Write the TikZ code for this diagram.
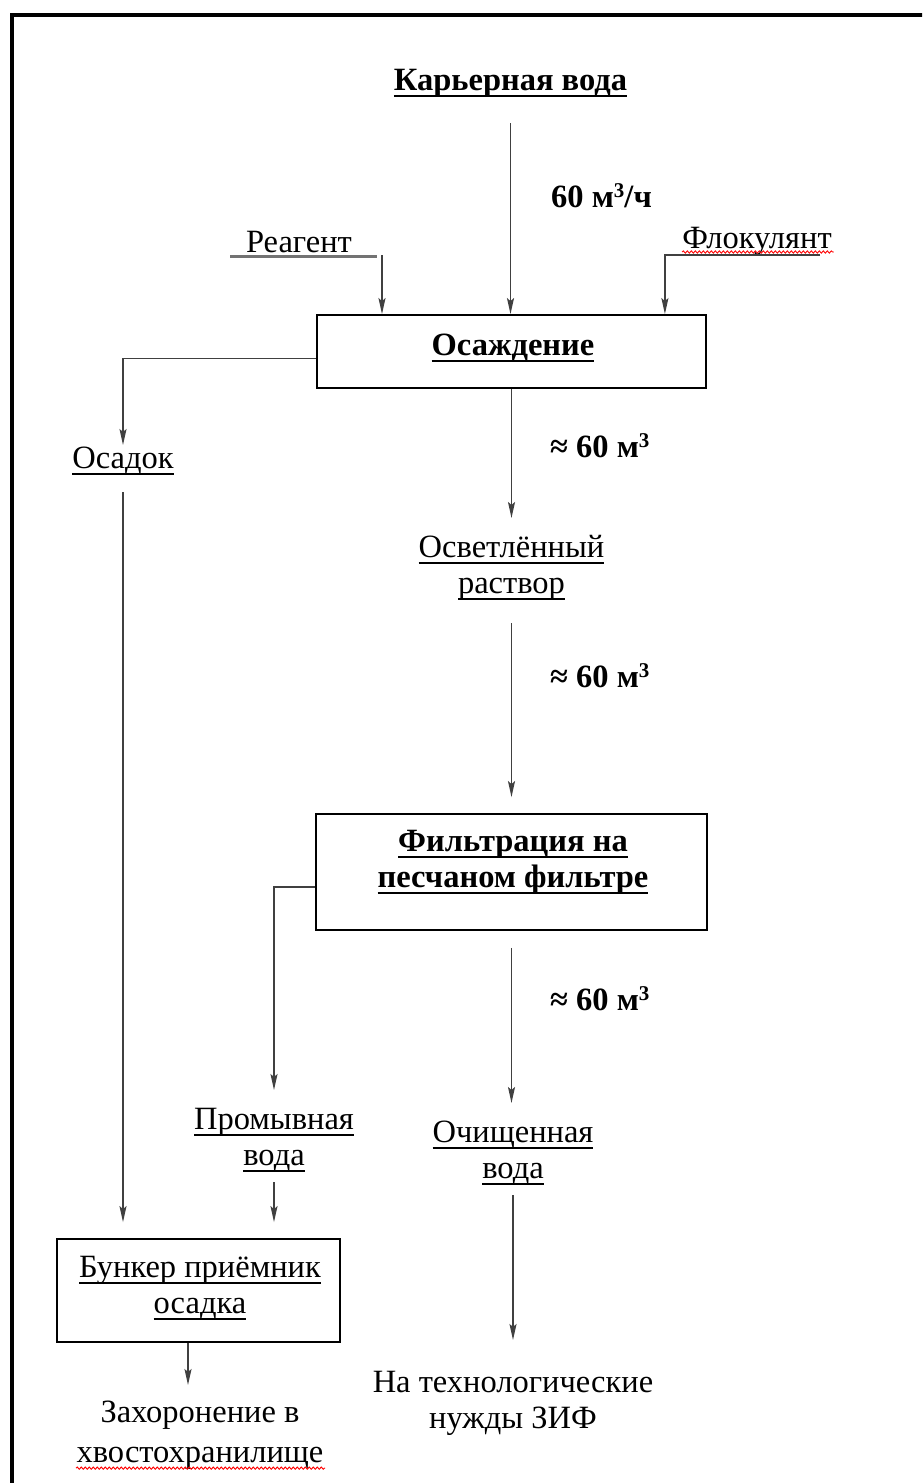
\documentclass[tikz,border=0pt]{standalone}
\usepackage{fontspec}
\setmainfont{Liberation Serif}
\usetikzlibrary{arrows.meta,calc,decorations.pathmorphing}
\newcommand\ulx[2]{\setbox0=\hbox{#2}\rlap{\rule[-7pt]{\wd0}{#1}}\box0}
\newcommand\ub[1]{\ulx{2.2pt}{\bfseries #1}}
\newcommand\un[1]{\ulx{1.6pt}{#1}}
\newcommand\cub{\raisebox{10pt}{\fontsize{21}{21}\selectfont 3}}
\begin{document}
\begin{tikzpicture}[x=1pt,y=-1pt,
 txt/.style={inner sep=0pt, font=\fontsize{32.5}{36}\selectfont, align=center},
 box/.style={draw=black, line width=1.8pt, inner sep=0pt},
 arr/.style={draw=black!75, line width=1.7pt, -{Stealth[length=16pt,width=7pt,inset=3pt]}},
 spell/.style={draw=red, line width=0.9pt, decorate, decoration={snake,amplitude=1.1pt,segment length=4pt}}]
\useasboundingbox (0,0) rectangle (922,1483);
\begin{scope}
\clip (0,0) rectangle (922,1483);
\draw[line width=4pt] (11.5,14.5) rectangle (960,1520);
\end{scope}

\node[txt, anchor=base] (kv) at (510.5,90) {\ub{Карьерная вода}};
\node[txt, anchor=base west] (q1) at (551,207) {\bfseries 60 м\cub/ч};
\node[txt, anchor=base] (reag) at (299,252) {Реагент};
\node[txt, anchor=base] (flok) at (757,248) {Флокулянт};
\node[box, minimum width=389pt, minimum height=73pt] (osazh) at (511.5,351.5) {};
\node[txt, anchor=base] (osazhT) at (513,355) {\ub{Осаждение}};
\node[txt, anchor=base] (osadok) at (123,468) {\un{Осадок}};
\node[txt, anchor=base west] (q2) at (550,457) {\bfseries ≈ 60 м\cub};
\node[txt, anchor=base] (osvet) at (511.5,593) {\un{Осветлённый}\\\un{раствор}};
\node[txt, anchor=base west] (q3) at (550,687) {\bfseries ≈ 60 м\cub};
\node[box, minimum width=391pt, minimum height=116pt] (filt) at (511.5,872) {};
\node[txt, anchor=base] (filtT) at (513,887) {\ub{Фильтрация на}\\\ub{песчаном фильтре}};
\node[txt, anchor=base west] (q4) at (550,1010) {\bfseries ≈ 60 м\cub};
\node[txt, anchor=base] (prom) at (274,1165) {\un{Промывная}\\\un{вода}};
\node[txt, anchor=base] (ochi) at (513,1178) {\un{Очищенная}\\\un{вода}};
\node[box, minimum width=283pt, minimum height=103pt] (bunk) at (198.5,1290.5) {};
\node[txt, anchor=base] (bunkT) at (200,1313) {\un{Бункер приёмник}\\\un{осадка}};
\node[txt, anchor=base] (zah) at (200,1462) {Захоронение в\\[4pt]хвостохранилище};
\node[txt, anchor=base] (nuzh) at (513,1428) {На технологические\\нужды ЗИФ};

\draw[arr] ($(kv.base)+(0,33)$) -- (kv.base |- osazh.north);
\draw[line width=3pt, draw=black!55] ($(reag.base)+(-69,4)$) -- ($(reag.base)+(78,4)$);
\draw[arr] ($(reag.base)+(83,3)$) -- ($(reag.base |- osazh.north)+(83,0)$);
\draw[arr] ($(flok.base)+(63,7)$) -| ($(osazh.north east)+(-42,0)$);
\draw[arr] ($(osazh.west)+(0,7)$) -| ($(osadok.base)+(0,-23)$);
\draw[arr] (osazh.south) -- ($(osvet.base)+(0,-75)$);
\draw[arr] ($(osvet.south)+(0,23)$) -- ($(filt.north)+(0,-16)$);
\draw[arr] ($(filt.west)+(0,15)$) -| ($(prom.base)+(0,-75)$);
\draw[arr] ($(filt.south)+(0,17)$) -- ($(filt.south |- ochi.base)+(0,-75)$);
\draw[arr] ($(prom.south)+(0,10)$) -- ($(prom.south |- bunk.north)+(0,-16)$);
\draw[arr] ($(osadok.base)+(0,24)$) -- ($(osadok.base |- bunk.north)+(0,-16)$);
\draw[arr] ($(ochi.south)+(0,10)$) -- ($(nuzh.base)+(0,-88)$);
\draw[arr] ($(bunk.south)+(-10.5,0)$) -- ($(zah.base)+(-12,-77)$);

\draw[spell] ($(flok.base west)+(0,4)$) -- ($(flok.base east)+(2,4)$);
\draw[spell] ($(zah.south)+(-124,-1)$) -- ($(zah.south)+(125,-1)$);
\end{tikzpicture}
\end{document}
